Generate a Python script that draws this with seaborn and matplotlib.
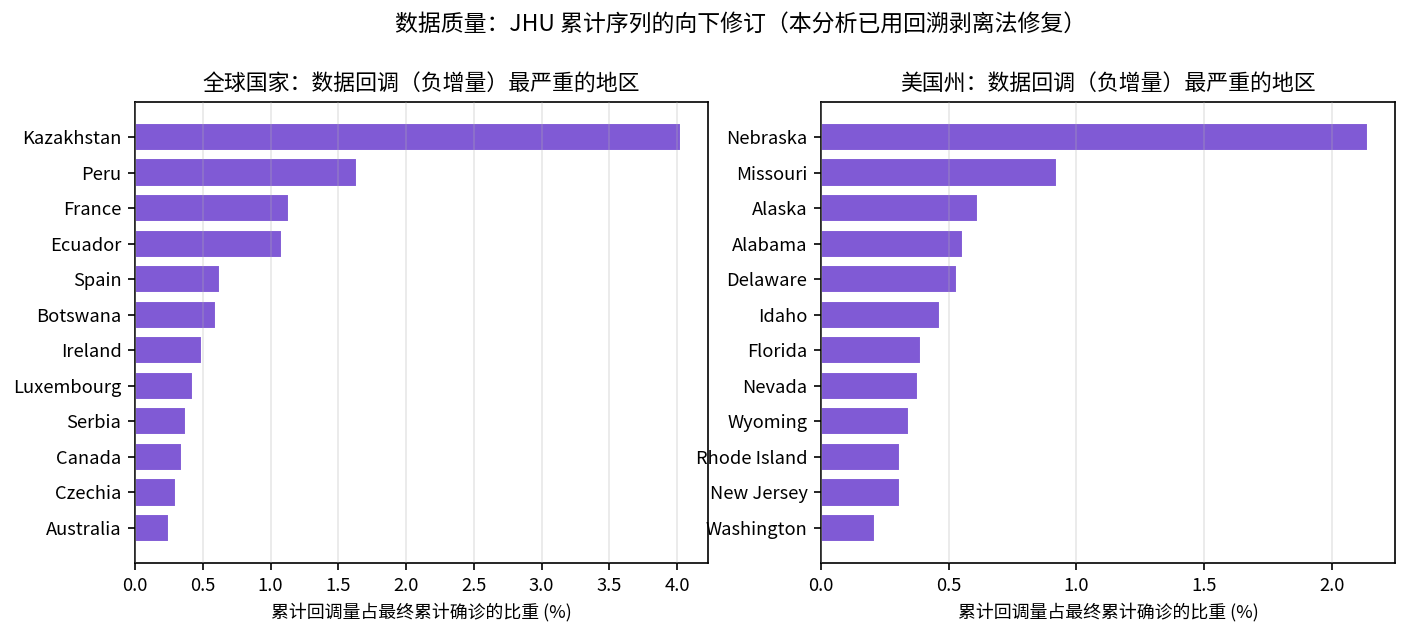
import matplotlib
matplotlib.use("Agg")
import matplotlib.pyplot as plt
from matplotlib.ticker import MultipleLocator
import seaborn as sns
import pandas as pd

countries = ["Kazakhstan", "Peru", "France", "Ecuador", "Spain", "Botswana",
             "Ireland", "Luxembourg", "Serbia", "Canada", "Czechia", "Australia"]
country_pct = [4.027, 1.639, 1.135, 1.083, 0.627, 0.596,
               0.492, 0.427, 0.375, 0.345, 0.301, 0.254]

states = ["Nebraska", "Missouri", "Alaska", "Alabama", "Delaware", "Idaho",
          "Florida", "Nevada", "Wyoming", "Rhode Island", "New Jersey", "Washington"]
state_pct = [2.141, 0.926, 0.615, 0.556, 0.533, 0.465,
             0.390, 0.379, 0.343, 0.308, 0.308, 0.210]

suptitle = "数据质量：JHU 累计序列的向下修订（本分析已用回溯剥离法修复）"
title_left = "全球国家：数据回调（负增量）最严重的地区"
title_right = "美国州：数据回调（负增量）最严重的地区"
xlabel = "累计回调量占最终累计确诊的比重 (%)"

BAR = "#805AD5"

sns.set_theme(style="white")
plt.rcParams["font.family"] = ["Noto Sans CJK SC", "DejaVu Sans"]
plt.rcParams["axes.edgecolor"] = "black"
plt.rcParams["xtick.bottom"] = True
plt.rcParams["ytick.left"] = True
plt.rcParams["xtick.color"] = "black"
plt.rcParams["ytick.color"] = "black"
plt.rcParams["text.color"] = "black"
plt.rcParams["axes.labelcolor"] = "black"

fig = plt.figure(figsize=(1406 / 150, 635 / 150), dpi=150)
W, H = 1406, 635
ax1 = fig.add_axes([135 / W, (H - 563) / H, (708 - 135) / W, (563 - 102) / H])
ax2 = fig.add_axes([821 / W, (H - 563) / H, (1395 - 821) / W, (563 - 102) / H])

for ax, names, vals, title in [(ax1, countries, country_pct, title_left),
                               (ax2, states, state_pct, title_right)]:
    df = pd.DataFrame({"name": names, "pct": vals})
    sns.barplot(data=df, x="pct", y="name", orient="h", color=BAR,
                saturation=1, width=0.8, ax=ax, zorder=1)
    n = len(names)
    ax.set_ylim(n - 1 + 0.4 + 0.59, -0.4 - 0.59)
    ax.set_xlim(0, max(vals) * 1.05)
    ax.xaxis.set_major_locator(MultipleLocator(0.5))
    ax.grid(axis="x", color="#b0b0b0", alpha=0.3, linewidth=0.8, zorder=2)
    ax.set_axisbelow(False)
    ax.set_title(title, fontsize=10.5, pad=6)
    ax.set_xlabel(xlabel, fontsize=8.6)
    ax.set_ylabel("")
    ax.tick_params(axis="both", labelsize=8.8, length=3.5, width=0.8,
                   direction="out", pad=3)
    for s in ax.spines.values():
        s.set_visible(True)
        s.set_color("black")
        s.set_linewidth(0.8)

fig.suptitle(suptitle, fontsize=11, x=741 / W, y=0.98)
fig.savefig("out.png", dpi=150)
